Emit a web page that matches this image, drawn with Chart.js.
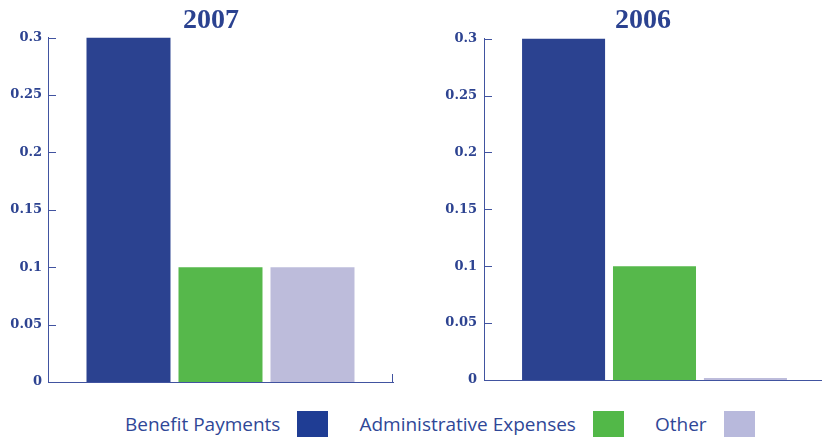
<!DOCTYPE html>
<html>
<head>
<meta charset="utf-8">
<script src="https://cdn.jsdelivr.net/npm/chart.js@4/dist/chart.umd.min.js"></script>
<style>
    body { margin: 0; width: 822px; height: 437px; overflow: hidden; background: #fff; position: relative; }
    #chart2007 { position: absolute; left: 0; top: 0; }
    #chart2006 { position: absolute; left: 420px; top: 0; }
    #legend { position: absolute; left: 125px; top: 411px; display: flex; align-items: flex-start; font-family: "Open Sans", sans-serif; font-size: 19px; color: #2f4797; }
    #legend .item { display: flex; align-items: flex-start; margin-right: 31px; }
    #legend .txt { line-height: 26px; }
    #legend .box { width: 31px; height: 28px; margin-left: 17px; }
</style>
</head>
<body>
<canvas id="chart2007" width="422" height="400"></canvas>
<canvas id="chart2006" width="446" height="400"></canvas>
<div id="legend"></div>
<script>
const categories = ['Benefit Payments', 'Administrative Expenses', 'Other'];
const values2007 = [0.3, 0.1, 0.1];
const values2006 = [0.3, 0.1, 0];
const barColors = ['#2b4290', '#56b84b', '#bdbcdb'];
const legendColors = ['#1f3d94', '#52b848', '#b8b9dc'];
const yTickLabels = ['0', '0.05', '0.1', '0.15', '0.2', '0.25', '0.3'];

const axisColor = '#4153a0';
const textColor = '#2d4391';

// ticks drawn on the inside of the axes
const innerTicks = {
    id: 'innerTicks',
    afterDraw(chart) {
        const ctx = chart.ctx;
        const area = chart.chartArea;
        const y = chart.scales.y;
        ctx.save();
        ctx.strokeStyle = axisColor;
        ctx.lineWidth = 1;
        ctx.beginPath();
        y.ticks.forEach((t, i) => {
            const py = Math.round(y.getPixelForTick(i)) + 0.5;
            ctx.moveTo(area.left, py);
            ctx.lineTo(area.left + 8, py);
        });
        const px = Math.round(area.right) - 0.5;
        ctx.moveTo(px, area.bottom);
        ctx.lineTo(px, area.bottom - 8);
        ctx.stroke();
        ctx.restore();
    }
};

// an empty axis on the right keeps the title centred on the whole canvas
function makeChart(id, year, values, axisWidth, rightSpace, labelPad, bottomPad, titlePad) {
    return new Chart(document.getElementById(id), {
        type: 'bar',
        data: {
            labels: [year],
            datasets: categories.map((c, i) => ({
                label: c,
                data: [values[i]],
                backgroundColor: barColors[i],
                borderWidth: 0,
                minBarLength: 2,
                categoryPercentage: 0.8,
                barPercentage: 0.913
            }))
        },
        options: {
            responsive: false,
            animation: false,
            layout: { padding: { left: 0, right: 0, top: 0, bottom: bottomPad } },
            plugins: {
                legend: { display: false },
                tooltip: { enabled: false },
                title: {
                    display: true,
                    text: year,
                    color: '#2b4290',
                    font: { family: '"Liberation Serif", serif', size: 28, weight: 'bold' },
                    padding: titlePad
                }
            },
            scales: {
                x: {
                    grid: { display: false, drawTicks: false },
                    border: { display: true, color: axisColor, width: 1 },
                    ticks: { display: false }
                },
                y: {
                    min: 0,
                    max: 0.3,
                    afterFit: (s) => { s.width = axisWidth; },
                    grid: { display: false, drawTicks: false },
                    border: { display: true, color: axisColor, width: 1 },
                    ticks: {
                        stepSize: 0.05,
                        padding: labelPad,
                        color: textColor,
                        font: { family: '"DejaVu Serif", serif', size: 13, weight: 'bold' },
                        callback: (v, i) => yTickLabels[i]
                    }
                },
                spacer: {
                    type: 'linear',
                    position: 'right',
                    afterFit: (s) => { s.width = rightSpace; },
                    grid: { display: false, drawTicks: false },
                    border: { display: false },
                    ticks: { display: false }
                }
            }
        },
        plugins: [innerTicks]
    });
}

makeChart('chart2007', '2007', values2007, 48, 29, 6, 18, { top: 4, bottom: 0 });
makeChart('chart2006', '2006', values2006, 64, 41, 7, 20, { top: 4, bottom: 1 });

const legend = document.getElementById('legend');
categories.forEach((c, i) => {
    const item = document.createElement('div');
    item.className = 'item';
    item.innerHTML = `<span class="txt">${c}</span><span class="box" style="background:${legendColors[i]}"></span>`;
    legend.appendChild(item);
});
</script>
</body>
</html>
